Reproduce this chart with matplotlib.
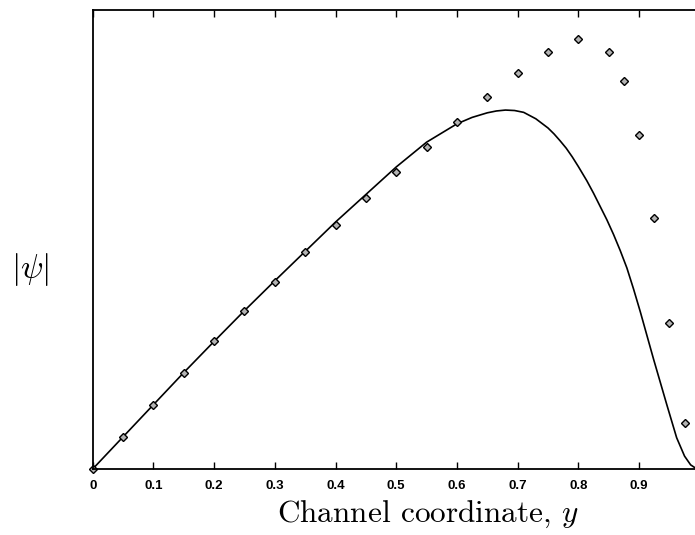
import matplotlib
matplotlib.use("Agg")
import matplotlib.pyplot as plt

plt.rcParams['mathtext.fontset'] = 'cm'

# computed profile (solid line)
curve_y = [0, 0.05, 0.1, 0.15, 0.2, 0.25, 0.3, 0.35, 0.4, 0.45, 0.5, 0.55,
           0.6, 0.625, 0.65, 0.665, 0.68, 0.695, 0.71, 0.73, 0.75, 0.76,
           0.77, 0.78, 0.79, 0.80, 0.814, 0.825, 0.836, 0.847, 0.858, 0.869,
           0.88, 0.891, 0.902, 0.924, 0.946, 0.962, 0.975, 0.985, 0.993, 1.0]
curve_psi = [0, 0.070, 0.140, 0.210, 0.278, 0.345, 0.410, 0.474, 0.538,
             0.598, 0.658, 0.712, 0.752, 0.766, 0.776, 0.780, 0.782, 0.781,
             0.777, 0.763, 0.743, 0.730, 0.715, 0.699, 0.680, 0.659, 0.628,
             0.601, 0.572, 0.543, 0.511, 0.476, 0.438, 0.392, 0.343, 0.239,
             0.139, 0.068, 0.028, 0.009, 0.002, 0.0]

# measured points (diamonds)
pts_y = [0, 0.05, 0.1, 0.15, 0.2, 0.25, 0.3, 0.35, 0.4, 0.45, 0.5, 0.55,
         0.6, 0.65, 0.7, 0.75, 0.8, 0.85, 0.875, 0.9, 0.925, 0.95, 0.975]
pts_psi = [0, 0.070, 0.140, 0.210, 0.278, 0.345, 0.408, 0.473, 0.532,
           0.590, 0.646, 0.702, 0.757, 0.810, 0.862, 0.908, 0.937, 0.909,
           0.845, 0.728, 0.547, 0.319, 0.101]

xticks = [0, 0.1, 0.2, 0.3, 0.4, 0.5, 0.6, 0.7, 0.8, 0.9]
xticklabels = ['0', '0.1', '0.2', '0.3', '0.4', '0.5', '0.6', '0.7', '0.8', '0.9']

fig = plt.figure(figsize=(6.95, 5.35), dpi=100)
ax = fig.add_axes([0.1334, 0.1234, 0.8734, 0.8579])

ax.plot(curve_y, curve_psi, color='k', lw=1.2)
ax.plot(pts_y, pts_psi, linestyle='none', marker='D', markersize=4,
        markerfacecolor='0.7', markeredgecolor='k', markeredgewidth=1,
        clip_on=False)

ax.set_xlim(0, 1)
ax.set_ylim(0, 1)
ax.set_xticks(xticks)
ax.set_xticklabels(xticklabels, fontfamily='Liberation Sans',
                   fontweight='bold', fontsize=9.5)
ax.set_yticks([])
ax.tick_params(axis='x', direction='in', length=5, width=1, top=True, pad=8)
for s in ax.spines.values():
    s.set_linewidth(1.3)

fig.text(428 / 695, 1 - 522 / 535, 'Channel coordinate, $y$',
         fontfamily='cmr10', fontsize=22.5, ha='center', va='baseline')
fig.text(30 / 695, 1 - 270 / 535, r'$|\psi|$', fontsize=24,
         ha='center', va='center')

fig.savefig('out.png', dpi=100)
